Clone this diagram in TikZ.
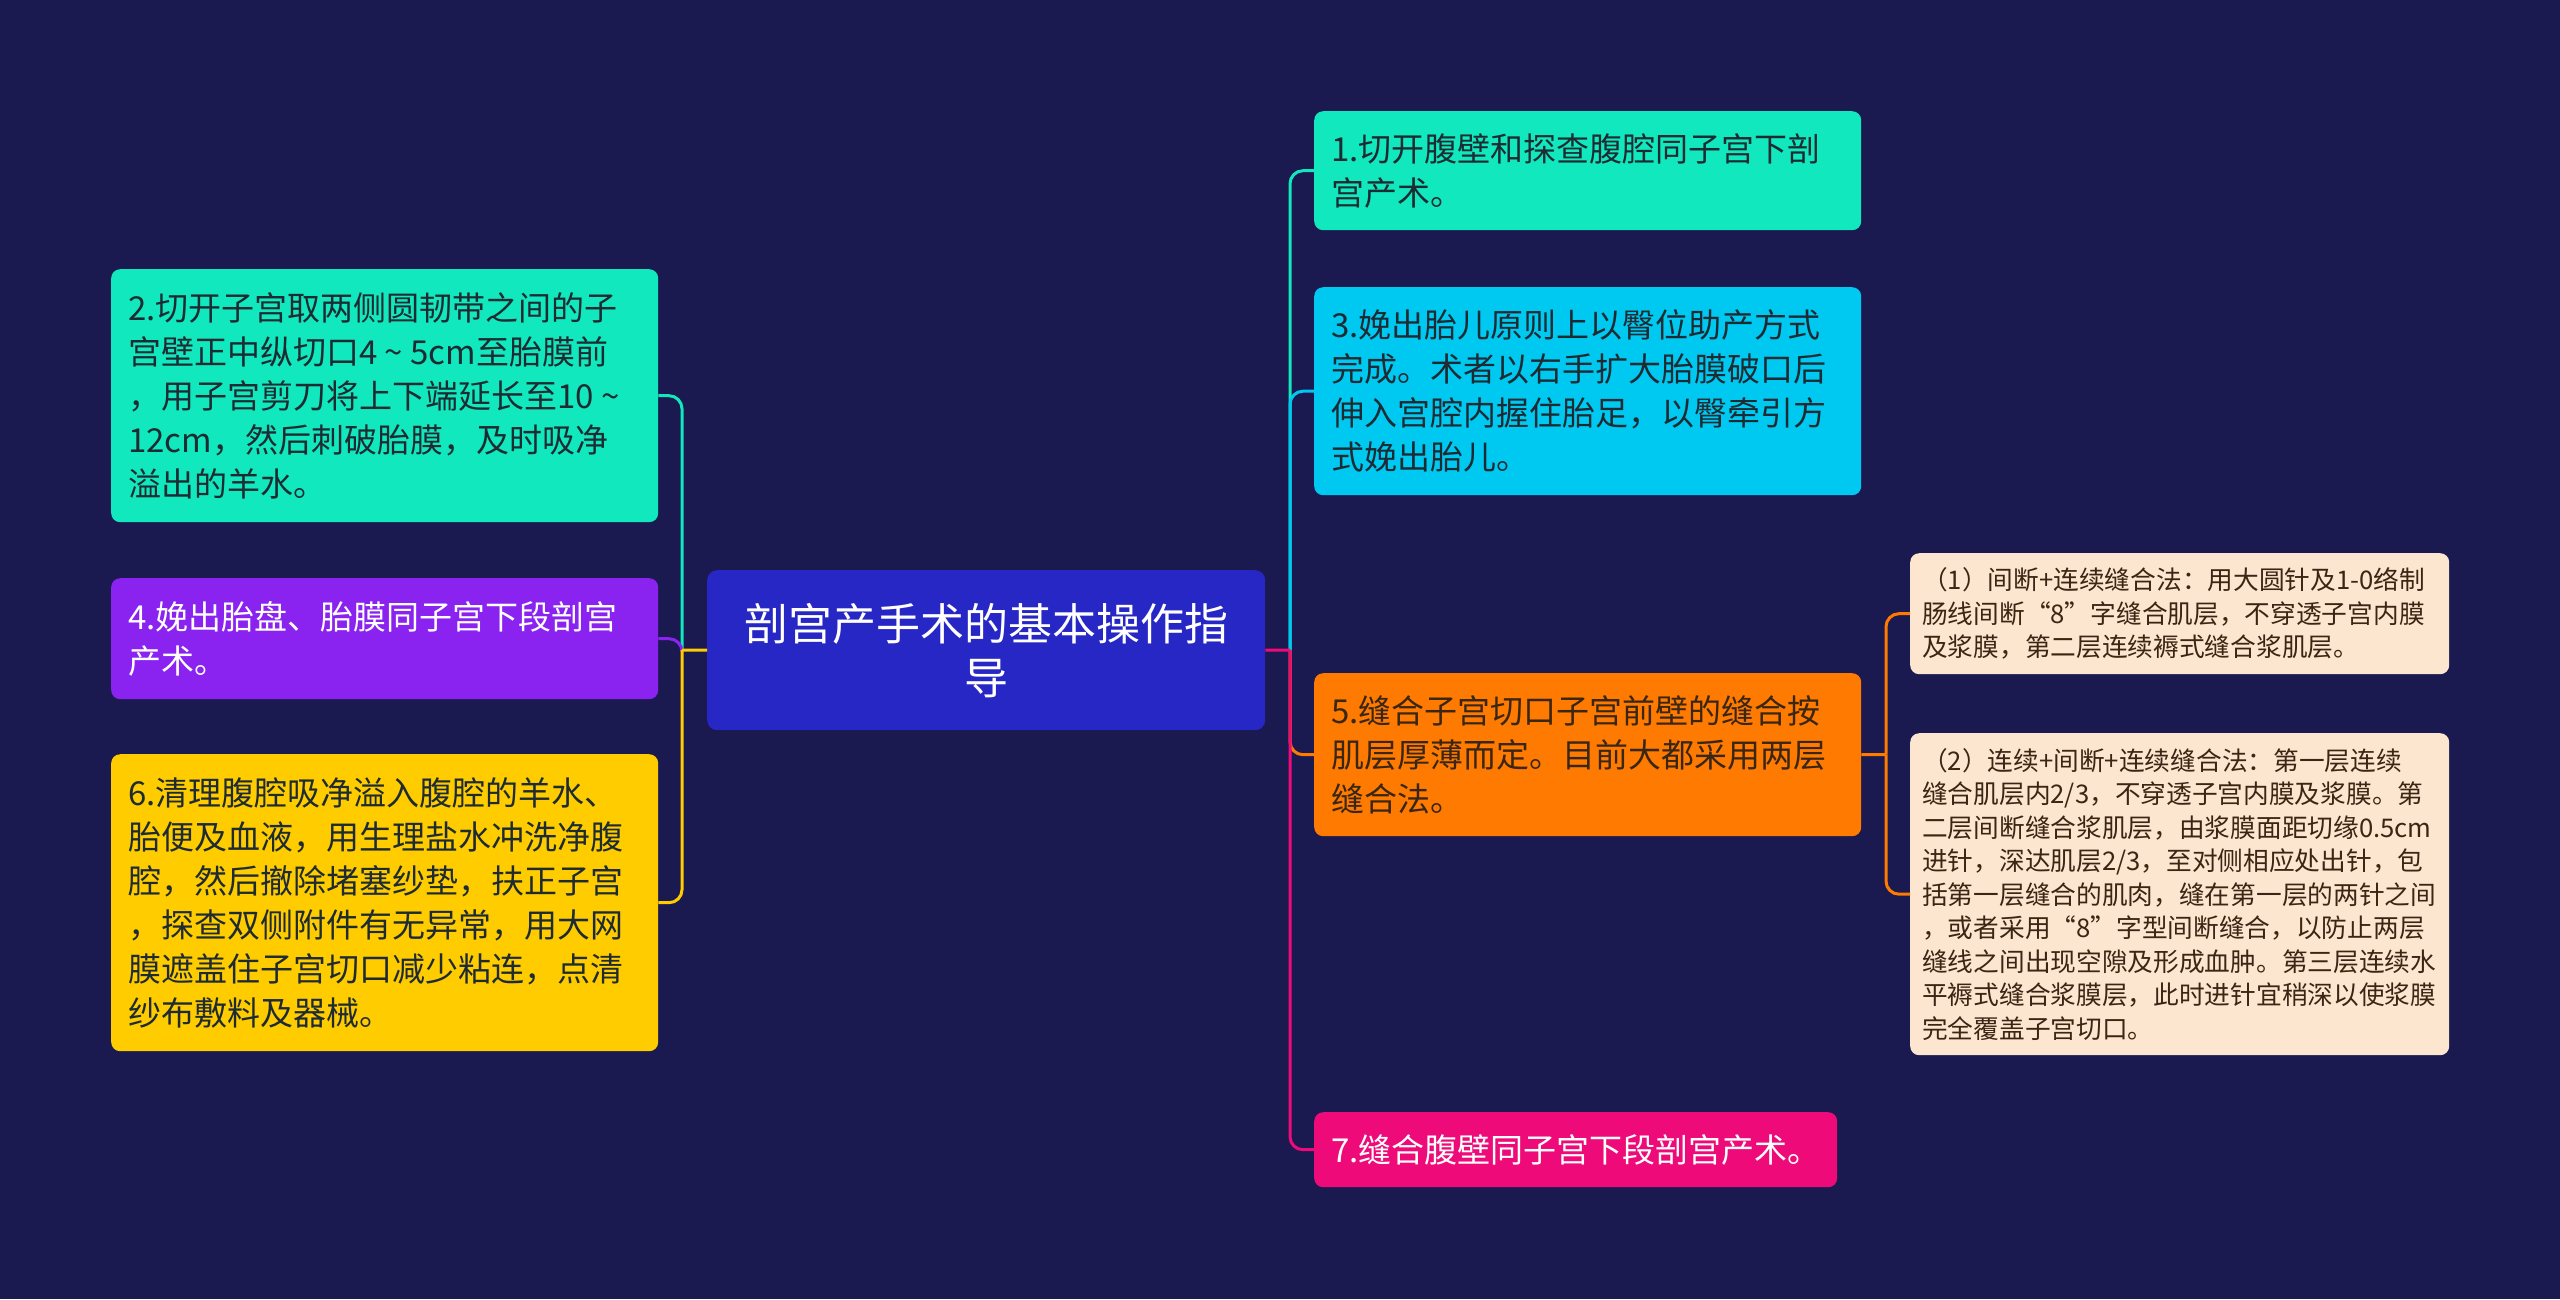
\documentclass[tikz,border=0pt]{standalone}
\usepackage{fontspec}
\newfontfamily\cjk{Noto Sans CJK SC}
\definecolor{bg}{HTML}{1A1950}
\definecolor{ctr}{HTML}{2727C6}
\definecolor{aqua}{HTML}{12E8BD}
\definecolor{sky}{HTML}{00C9F1}
\definecolor{orng}{HTML}{FF7A00}
\definecolor{pnk}{HTML}{EE0A78}
\definecolor{purp}{HTML}{8A22F0}
\definecolor{yell}{HTML}{FFCC00}
\definecolor{peach}{HTML}{FDE6D0}
\definecolor{dtext}{HTML}{1E2B33}
\definecolor{btext}{HTML}{3A2614}
\newcommand\mytil{\hspace{0.22em}\textasciitilde\hspace{0.22em}}
\begin{document}
\begin{tikzpicture}[x=1pt,y=-1pt,
  box/.style={rectangle, rounded corners=9pt, inner xsep=17pt, inner ysep=0pt,
    anchor=north west, align=left, text width=513pt,
    font=\cjk\fontsize{33}{44}\selectfont, text=dtext},
  sub/.style={rectangle, rounded corners=9pt, inner xsep=12pt, inner ysep=0pt,
    anchor=north west, align=left, text width=515pt, fill=peach,
    font=\cjk\fontsize{25.7}{33.5}\selectfont, text=btext},
  conn/.style={draw=#1, line width=3pt},
  curv/.style={draw=#1, line width=3pt, rounded corners=13pt}]
\fill[bg] (0,0) rectangle (2560,1299);
\useasboundingbox (0,0) rectangle (2560,1299);

% center
\node[rectangle, rounded corners=10pt, fill=ctr, minimum width=558pt, minimum height=160pt,
  anchor=north west, align=center, text=white, font=\cjk\fontsize{44}{54}\selectfont]
  (c) at (707,570) {剖宫产手术的基本操作指\\导};

% right
\node[box, fill=aqua, minimum height=119pt] (n1) at (1314,111)
  {1.切开腹壁和探查腹腔同子宫下剖\\宫产术。};
\node[box, fill=sky, minimum height=208pt] (n3) at (1314,287)
  {3.娩出胎儿原则上以臀位助产方式\\完成。术者以右手扩大胎膜破口后\\伸入宫腔内握住胎足，以臀牵引方\\式娩出胎儿。};
\node[box, fill=orng, text=btext, minimum height=163pt] (n5) at (1314,673)
  {5.缝合子宫切口子宫前壁的缝合按\\肌层厚薄而定。目前大都采用两层\\缝合法。};
\node[box, fill=pnk, text=white, text width=489pt, minimum height=75pt] (n7) at (1314,1112)
  {7.缝合腹壁同子宫下段剖宫产术。};

% sub nodes
\node[sub, minimum height=121pt] (s1) at (1910,553)
  {（1）间断+连续缝合法：用大圆针及1-0络制\\肠线间断“8”字缝合肌层，不穿透子宫内膜\\及浆膜，第二层连续褥式缝合浆肌层。};
\node[sub, minimum height=322pt] (s2) at (1910,733)
  {（2）连续+间断+连续缝合法：第一层连续\\缝合肌层内2/3，不穿透子宫内膜及浆膜。第\\二层间断缝合浆肌层，由浆膜面距切缘0.5cm\\进针，深达肌层2/3，至对侧相应处出针，包\\括第一层缝合的肌肉，缝在第一层的两针之间\\，或者采用“8”字型间断缝合，以防止两层\\缝线之间出现空隙及形成血肿。第三层连续水\\平褥式缝合浆膜层，此时进针宜稍深以使浆膜\\完全覆盖子宫切口。};

% left
\node[box, fill=aqua, minimum height=253pt] (n2) at (111,269)
  {2.切开子宫取两侧圆韧带之间的子\\宫壁正中纵切口4\mytil 5cm至胎膜前\\，用子宫剪刀将上下端延长至10\mytil\\12cm，然后刺破胎膜，及时吸净\\溢出的羊水。};
\node[box, fill=purp, text=white, minimum height=121pt] (n4) at (111,578)
  {4.娩出胎盘、胎膜同子宫下段剖宫\\产术。};
\node[box, fill=yell, minimum height=297pt] (n6) at (111,754)
  {6.清理腹腔吸净溢入腹腔的羊水、\\胎便及血液，用生理盐水冲洗净腹\\腔，然后撤除堵塞纱垫，扶正子宫\\，探查双侧附件有无异常，用大网\\膜遮盖住子宫切口减少粘连，点清\\纱布敷料及器械。};

% junction points
\coordinate (rt) at (1290,650);
\coordinate (lt) at (682,650);
\coordinate (st) at (1886,754.5);

% right connectors
\draw[curv=aqua] (rt) |- (n1.west);
\draw[curv=sky] (rt) |- (n3.west);
\draw[curv=orng] (rt) |- (n5.west);
\draw[curv=pnk] (rt) |- (n7.west);
\draw[conn=pnk] (c.east) -- (rt);

% sub connectors
\draw[conn=orng] (n5.east) -- (st);
\draw[curv=orng] (st) |- (s1.west);
\draw[curv=orng] (st) |- (s2.west);

% left connectors
\draw[curv=aqua] (lt) |- (n2.east);
\draw[curv=purp] (lt) |- (n4.east);
\draw[curv=yell] (lt) |- (n6.east);
\draw[conn=yell] (c.west) -- (lt);
\end{tikzpicture}
\end{document}
